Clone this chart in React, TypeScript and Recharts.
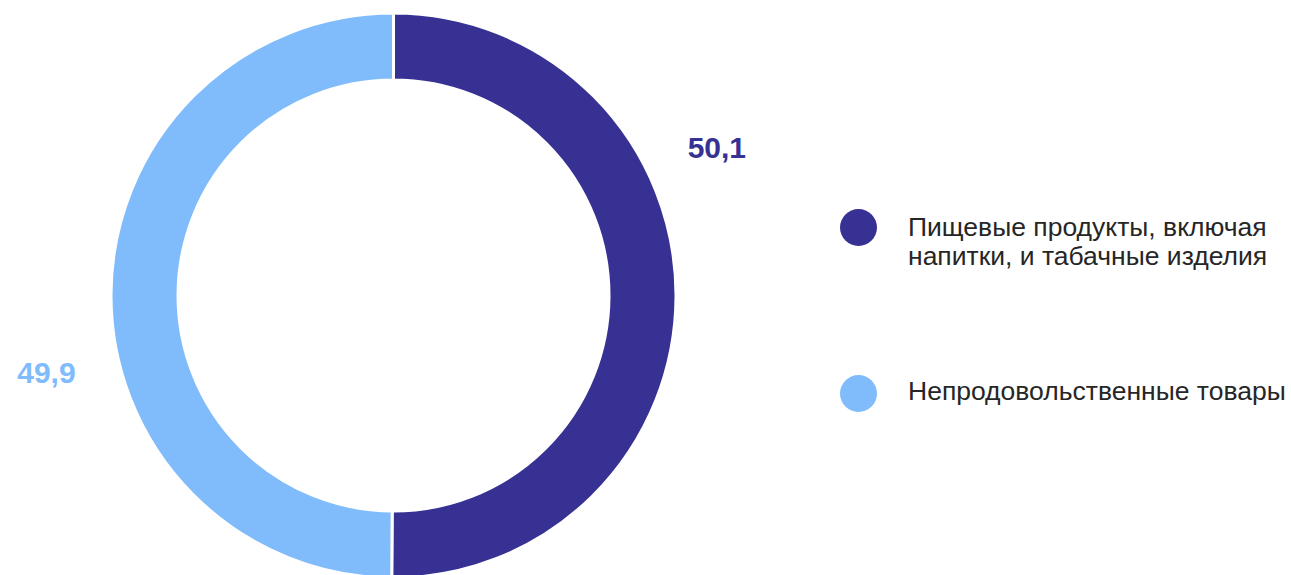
import { PieChart, Pie, Cell, Legend } from 'recharts';

const categories = ['Пищевые продукты, включая напитки, и табачные изделия', 'Непродовольственные товары'];
const legendLines = [['Пищевые продукты, включая', 'напитки, и табачные изделия'], ['Непродовольственные товары']];
const shares = [50.1, 49.9];
const valueLabels = ['50,1', '49,9'];
const colors = ['#363192', '#80bcfb'];

const data = categories.map((name, i) => ({ name, value: shares[i] }));

// where each value label sits, in degrees around the ring
const labelAngles = [24.56, 192.5];

const RADIAN = Math.PI / 180;
const FONT = "'Liberation Sans', Arial, sans-serif";

function renderLabel(props: any) {
  const { cx, cy, outerRadius, index } = props;
  const r = outerRadius + 73;
  const a = labelAngles[index] * RADIAN;
  const x = cx + r * Math.cos(a);
  const y = cy - r * Math.sin(a);
  return (
    <text
      x={x}
      y={y}
      dy={10.7}
      fill={colors[index]}
      textAnchor="middle"
      fontSize={30}
      fontWeight="bold"
      fontFamily={FONT}
    >
      {valueLabels[index]}
    </text>
  );
}

// legend rows: circle top / text top
const rowTops = [
  { circle: 208.5, text: 213 },
  { circle: 375.2, text: 377 },
];

function LegendContent() {
  return (
    <div style={{ position: 'relative', width: 1291, height: 575, fontFamily: FONT, color: '#262626' }}>
      {legendLines.map((lines, i) => (
        <div key={i}>
          <svg
            width={37}
            height={37}
            style={{ position: 'absolute', left: 839.5, top: rowTops[i].circle }}
          >
            <circle cx={18.5} cy={18.5} r={18.5} fill={colors[i]} />
          </svg>
          <div
            style={{
              position: 'absolute',
              left: 908,
              top: rowTops[i].text,
              fontSize: 26.5,
              lineHeight: '29px',
              whiteSpace: 'nowrap',
            }}
          >
            {lines.map((l, j) => (
              <div key={j}>{l}</div>
            ))}
          </div>
        </div>
      ))}
    </div>
  );
}

export default function App() {
  return (
    <div style={{ position: 'absolute', left: 0, top: 0, background: '#fff' }}>
      <PieChart width={1291} height={575} margin={{ top: 0, right: 0, bottom: 0, left: 0 }}>
        <Pie
          data={data}
          dataKey="value"
          nameKey="name"
          cx={393.5}
          cy={295.5}
          innerRadius={215.5}
          outerRadius={282.5}
          startAngle={90}
          endAngle={-270}
          stroke="#ffffff"
          strokeWidth={3}
          label={renderLabel}
          labelLine={false}
          isAnimationActive={false}
        >
          {data.map((entry, index) => (
            <Cell key={`cell-${index}`} fill={colors[index]} />
          ))}
        </Pie>
        <Legend
          content={<LegendContent />}
          wrapperStyle={{ left: 0, top: 0, width: 1291, height: 575, pointerEvents: 'none' }}
        />
      </PieChart>
    </div>
  );
}
